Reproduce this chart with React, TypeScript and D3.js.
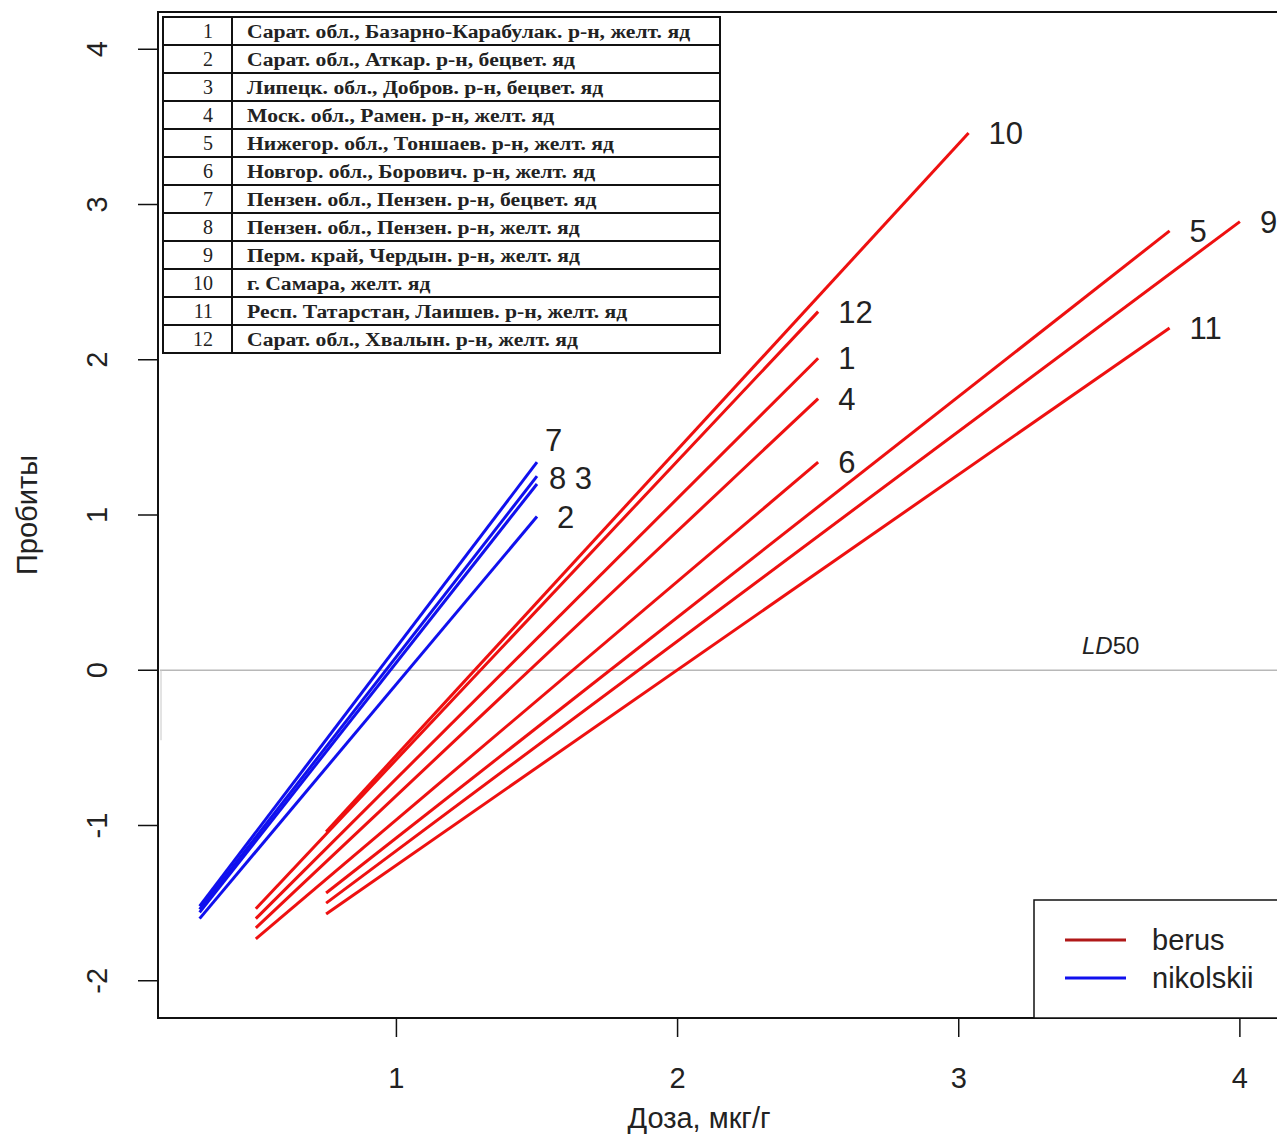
import React from "react";
import * as d3 from "d3";

// ---- data ----
const lineIds = ["1", "2", "3", "4", "5", "6", "7", "8", "9", "10", "11", "12"];
const lineSpecies = ["berus", "nikolskii", "nikolskii", "berus", "berus", "berus", "nikolskii", "nikolskii", "berus", "berus", "berus", "berus"];
const doseStart = [0.5, 0.3, 0.3, 0.5, 0.75, 0.5, 0.3, 0.3, 0.75, 0.75, 0.75, 0.5];
const doseEnd = [2.5, 1.5, 1.5, 2.5, 3.75, 2.5, 1.5, 1.5, 4.0, 3.035, 3.75, 2.5];
const probitStart = [-1.6, -1.6, -1.56, -1.66, -1.435, -1.73, -1.52, -1.54, -1.5, -1.04, -1.57, -1.536];
const probitEnd = [2.01, 0.99, 1.2, 1.75, 2.83, 1.34, 1.34, 1.25, 2.89, 3.46, 2.205, 2.31];
const lineLabels = ["1", "2", "", "4", "5", "6", "7", "8 3", "9", "10", "11", "12"];

const tableRows = [
  "Сарат. обл., Базарно-Карабулак. р-н, желт. яд",
  "Сарат. обл., Аткар. р-н, бецвет. яд",
  "Липецк. обл., Добров. р-н, бецвет. яд",
  "Моск. обл., Рамен. р-н, желт. яд",
  "Нижегор. обл., Тоншаев. р-н, желт. яд",
  "Новгор. обл., Борович. р-н, желт. яд",
  "Пензен. обл., Пензен. р-н, бецвет. яд",
  "Пензен. обл., Пензен. р-н, желт. яд",
  "Перм. край, Чердын. р-н, желт. яд",
  "г. Самара, желт. яд",
  "Респ. Татарстан, Лаишев. р-н, желт. яд",
  "Сарат. обл., Хвалын. р-н, желт. яд",
];

const xTicks = [1, 2, 3, 4];
const yTicks = [-2, -1, 0, 1, 2, 3, 4];
const speciesNames = ["berus", "nikolskii"];
const xDomain = [0.152, 4.148];
const yDomain = [-2.24, 4.24];

const colorFor: Record<string, string> = { berus: "#ee1010", nikolskii: "#1010ee" };
const legendColor: Record<string, string> = { berus: "#b01818", nikolskii: "#1010ee" };

export default function App() {
  const W = 1277, H = 1136;
  const left = 158, right = 1281.5, top = 12, bottom = 1018;
  const x = d3.scaleLinear().domain(xDomain).range([left, right]);
  const y = d3.scaleLinear().domain(yDomain).range([bottom, top]);
  const sans = "'Liberation Sans', Arial, sans-serif";
  const serif = "'Liberation Serif', 'Times New Roman', serif";

  const labelOffset: Record<string, [number, number]> = {
    "7": [8, -22],
    "8 3": [12, 2],
  };

  const lineGen = d3.line<[number, number]>().x((d) => x(d[0])).y((d) => y(d[1]));

  // table geometry
  const tX0 = 163, tX1 = 720, tSep = 232, tY0 = 17, rowH = 28;

  return (
    <svg width={W} height={H} style={{ position: "absolute", left: 0, top: 0, background: "#fff" }}>
      <rect x={0} y={0} width={W} height={H} fill="#fff" />
      {/* LD50 line */}
      <line x1={x(xDomain[0]) + 2} x2={W} y1={y(0)} y2={y(0)} stroke="#b8b8b8" strokeWidth={1.5} />
      <line x1={161} x2={161} y1={y(0)} y2={y(0) + 70} stroke="#c8c8c8" strokeWidth={1} />
      <text x={1082} y={654} fontFamily={sans} fontSize={24} fill="#222">
        <tspan fontStyle="italic">LD</tspan>50
      </text>

      {/* lines */}
      {lineIds.map((id, i) => (
        <path
          key={id}
          d={lineGen([[doseStart[i], probitStart[i]], [doseEnd[i], probitEnd[i]]]) || ""}
          stroke={colorFor[lineSpecies[i]]}
          strokeWidth={3}
          fill="none"
        />
      ))}
      {/* line labels */}
      {lineIds.map((id, i) => {
        const lab = lineLabels[i];
        if (!lab) return null;
        const off = labelOffset[lab] || [20, 0];
        return (
          <text
            key={"l" + id}
            x={x(doseEnd[i]) + off[0]}
            y={y(probitEnd[i]) + off[1]}
            dy="0.36em"
            fontFamily={sans}
            fontSize={31}
            fill="#222"
          >
            {lab}
          </text>
        );
      })}

      {/* frame */}
      <rect x={left} y={top} width={right - left} height={bottom - top} fill="none" stroke="#111" strokeWidth={2} />

      {/* axes */}
      {xTicks.map((t) => (
        <g key={"xt" + t}>
          <line x1={x(t)} x2={x(t)} y1={bottom} y2={bottom + 19} stroke="#111" strokeWidth={1.5} />
          <text x={x(t)} y={1088} textAnchor="middle" fontFamily={sans} fontSize={29} fill="#222">
            {t}
          </text>
        </g>
      ))}
      {yTicks.map((t) => (
        <g key={"yt" + t}>
          <line x1={left - 20} x2={left} y1={y(t)} y2={y(t)} stroke="#111" strokeWidth={1.5} />
          <text
            transform={`translate(107, ${y(t)}) rotate(-90)`}
            textAnchor="middle"
            fontFamily={sans}
            fontSize={29}
            fill="#222"
          >
            {t}
          </text>
        </g>
      ))}
      <text x={699} y={1128} textAnchor="middle" fontFamily={sans} fontSize={29} fill="#222">
        Доза, мкг/г
      </text>
      <text transform={`translate(37, ${(top + bottom) / 2}) rotate(-90)`} textAnchor="middle" fontFamily={sans} fontSize={29} fill="#222">
        Пробиты
      </text>

      {/* table legend */}
      <g>
        <rect x={tX0} y={tY0} width={tX1 - tX0} height={rowH * tableRows.length} fill="#fff" stroke="#111" strokeWidth={2} />
        <line x1={tSep} x2={tSep} y1={tY0} y2={tY0 + rowH * tableRows.length} stroke="#111" strokeWidth={2} />
        {tableRows.map((r, i) => (
          <g key={"tr" + i}>
            {i > 0 && <line x1={tX0} x2={tX1} y1={tY0 + rowH * i} y2={tY0 + rowH * i} stroke="#111" strokeWidth={2} />}
            <text x={213} y={tY0 + rowH * i + 21} textAnchor="end" fontFamily={serif} fontSize={20} fill="#222">
              {lineIds[i]}
            </text>
            <text
              transform={`translate(247, ${tY0 + rowH * i + 21}) scale(1.14, 1)`}
              fontFamily={serif}
              fontSize={19}
              fill="#222"
              fontWeight="bold"
            >
              {r}
            </text>
          </g>
        ))}
      </g>

      {/* species legend */}
      <g>
        <rect x={1034} y={900} width={W - 1034 + 10} height={bottom - 900} fill="#fff" stroke="#111" strokeWidth={1.5} />
        {speciesNames.map((s, i) => (
          <g key={s}>
            <line x1={1065} x2={1126} y1={940 + i * 38} y2={940 + i * 38} stroke={legendColor[s]} strokeWidth={3} />
            <text x={1152} y={940 + i * 38} dy="0.36em" fontFamily={sans} fontSize={29} fill="#222">
              {s}
            </text>
          </g>
        ))}
      </g>
    </svg>
  );
}
